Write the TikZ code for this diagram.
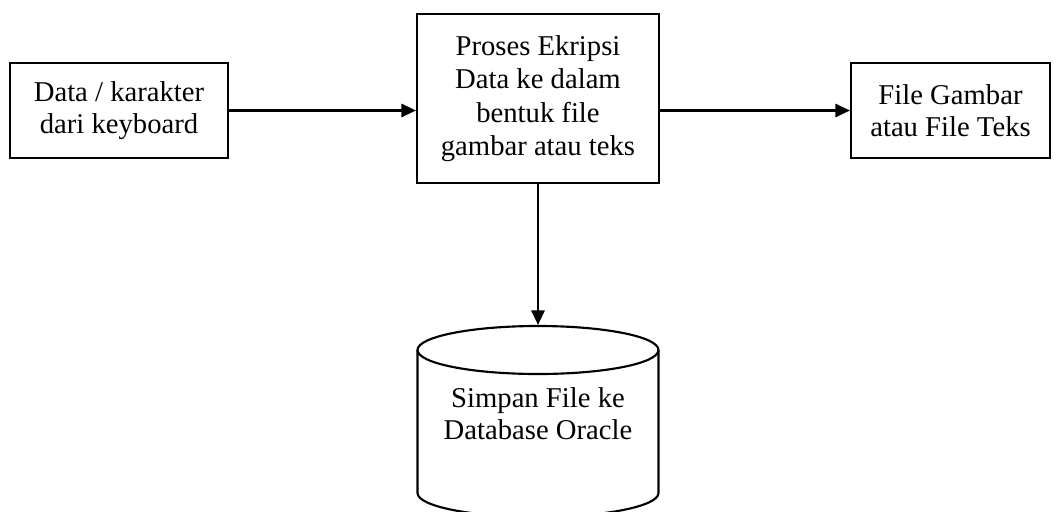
\documentclass[tikz,border=0pt]{standalone}
\usepackage{fontspec}
\setmainfont{Liberation Serif}
\usetikzlibrary{arrows.meta,positioning}

\begin{document}
\begin{tikzpicture}[x=0.75pt,y=-0.75pt,
  box/.style={draw,line width=1.6pt,align=center,inner sep=0pt,
    font=\fontsize{21.5}{24}\selectfont},
  arr/.style={-{Triangle[length=11pt,width=10pt]},line width=1.6pt}]
  \useasboundingbox (0,0) rectangle (1057,511);
  % Input from keyboard
  \node[box,minimum width=163.5pt,minimum height=71.25pt] (input) at (119,110.5)
    {Data / karakter\\dari keyboard};
  % Encryption process
  \node[box,minimum width=181.5pt,minimum height=126.75pt,
    font=\fontsize{21.5}{25}\selectfont] (proses) at (538,98.5)
    {Proses Ekripsi\\Data ke dalam\\bentuk file\\gambar atau teks};
  % Output file
  \node[box,minimum width=149.25pt,minimum height=71.25pt] (output) at (950.5,110.5)
    {File Gambar\\atau File Teks};
  % Database (cylinder)
  \node[box,draw=none,minimum width=180.75pt,minimum height=132pt] (db) at (538,414)
    {Simpan File ke\\Database Oracle};
  \draw[line width=1.6pt] (538,350) ellipse [x radius=90.375pt,y radius=18pt];
  \draw[line width=1.6pt] (417.5,350) -- (417.5,493)
    arc[start angle=180,end angle=360,x radius=90.375pt,y radius=18pt] -- (658.5,350);
  % Arrows
  \draw[arr] (input.east) -- (input.east -| proses.west);
  \draw[arr] (output.west -| proses.east) -- (output.west);
  \draw[arr] (proses.south) -- (db.north);
\end{tikzpicture}
\end{document}
